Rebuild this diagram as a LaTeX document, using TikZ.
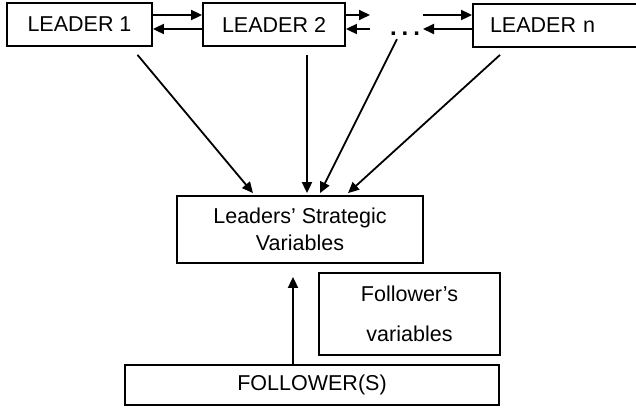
\documentclass[tikz,border=0pt]{standalone}
\usepackage{fontspec}
\setmainfont{Liberation Sans}
\usetikzlibrary{arrows.meta}

\begin{document}
\begin{tikzpicture}[x=1pt, y=-1pt,
    box/.style={draw, line width=1.8pt, inner sep=0pt, align=center, font=\fontsize{21.5}{27}\selectfont},
    arr/.style={-{Triangle[length=11pt, width=10pt]}, line width=1.8pt}]
        \useasboundingbox (0,0) rectangle (636,410);
        \node[box, minimum width=145pt, minimum height=43pt] (l1) at (79.5,24.5) {LEADER 1};
        \node[box, minimum width=142pt, minimum height=43pt] (l2) at (274,24.5) {LEADER 2};
        \node[box, minimum width=169pt, minimum height=43pt, text width=135pt, inner xsep=17pt, align=left] (ln) at (557.5,25.5) {LEADER n};
        \node[font=\fontsize{24}{24}\bfseries, anchor=base, inner sep=1pt] (dots) at (405,35) {.\kern5pt.\kern5pt.};
        \coordinate (dl) at (370,24.5);
        \coordinate (dr) at (423,24.5);
        \node[box, minimum width=246pt, minimum height=67pt] (sv) at (300,229.5) {Leaders’ Strategic\\Variables};
        \node[box, minimum width=181pt, minimum height=82pt, font=\fontsize{21.5}{40}\selectfont] (fv) at (409.5,314) {Follower’s\\variables};
        \node[box, minimum width=374pt, minimum height=40pt] (fl) at (312,385) {FOLLOWER(S)};
        % links between leaders
        \draw[arr] ([yshift=9.5pt]l1.east) -- ([yshift=9.5pt]l2.west);
        \draw[arr] ([yshift=-4.5pt]l2.west) -- ([yshift=-4.5pt]l1.east);
        \draw[arr] ([yshift=9.5pt]l2.east) -- ([yshift=9.5pt]dl);
        \draw[arr] ([yshift=-4.5pt]dl) -- ([yshift=-4.5pt]l2.east);
        \draw[arr] ([yshift=9.5pt]dr) -- ([yshift=10.5pt]ln.west);
        \draw[arr] ([yshift=-3.5pt]ln.west) -- ([yshift=-4.5pt]dr);
        % leaders to strategic variables
        \draw[arr] ([xshift=58pt, yshift=-8pt]l1.south) -- ([xshift=-47pt, yshift=2pt]sv.north);
        \draw[arr] ([xshift=33pt, yshift=-8pt]l2.south) -- ([xshift=7pt, yshift=2pt]sv.north);
        \draw[arr] ([xshift=-8pt, yshift=-3pt]dots.south) -- ([xshift=20pt, yshift=2pt]sv.north);
        \draw[arr] ([xshift=-57.5pt, yshift=-7pt]ln.south) -- ([xshift=48pt, yshift=2pt]sv.north);
        % follower
        \draw[arr] ([xshift=-19pt]fl.north) -- ([xshift=-7pt, yshift=-13pt]sv.south);
\end{tikzpicture}
\end{document}
